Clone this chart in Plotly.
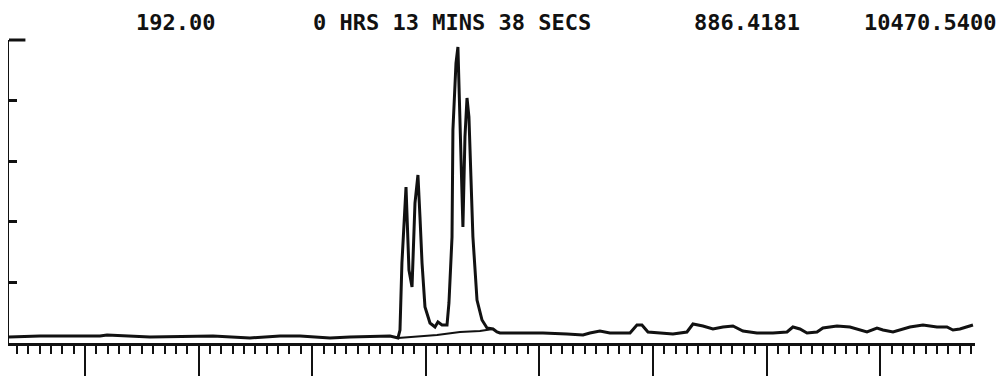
import plotly.graph_objects as go

# Chromatogram trace (x in scan units, y in % of full scale)
scan = [3.31, 6.04, 11.32, 11.94, 15.72, 20.12, 21.27, 24.52, 27.17, 28.93, 31.57, 33.33, 36.85,
        37.55, 37.73, 37.90, 38.17, 38.26, 38.52, 38.79, 39.05, 39.31, 39.49, 39.67, 39.93,
        40.37, 40.81, 41.07, 41.43, 41.87, 42.04, 42.31, 42.39, 42.66, 42.83, 43.01, 43.19,
        43.27, 43.45, 43.63, 43.80, 43.98, 44.15, 44.51, 44.95, 45.39, 45.92, 46.27, 46.53,
        48.29, 50.32, 52.43, 53.84, 54.45, 55.33, 56.21, 57.98, 58.59, 59.03, 59.56, 60.62,
        61.76, 62.99, 63.52, 64.40, 65.28, 66.16, 67.04, 67.92, 69.15, 70.56, 71.80, 72.32,
        72.94, 73.56, 74.44, 74.96, 76.20, 77.34, 78.22, 78.84, 79.72, 80.25, 81.13, 82.01,
        82.62, 83.77, 85.00, 85.88, 86.41, 87.02, 87.64, 88.17]
intensity = [1.98, 2.31, 2.31, 2.64, 1.98, 2.31, 2.31, 1.65, 2.31, 2.31, 1.65, 1.98, 2.31,
             1.65, 4.29, 26.40, 43.89, 51.49, 24.09, 18.48, 46.20, 55.45, 41.58, 26.40, 11.88,
             6.60, 5.28, 6.93, 5.94, 5.94, 13.20, 34.98, 70.30, 92.41, 97.69, 72.61, 56.11,
             38.28, 67.99, 80.86, 74.59, 57.10, 34.98, 14.19, 7.59, 4.95, 4.62, 3.63, 3.30,
             3.30, 3.30, 2.97, 2.64, 3.30, 3.96, 3.30, 3.30, 5.94, 5.94, 3.63, 3.30,
             2.97, 3.63, 6.27, 5.61, 4.62, 5.28, 5.61, 3.96, 3.30, 3.30, 3.63, 5.28,
             4.62, 3.30, 3.63, 4.95, 5.61, 5.28, 4.29, 3.63, 4.95, 4.29, 3.63, 4.62,
             5.28, 5.94, 5.28, 5.28, 4.29, 4.62, 5.28, 5.94]

# Baseline drawn under the peak cluster
base_scan = [37.55, 40.99, 43.01, 44.77, 45.92]
base_int = [1.65, 2.64, 3.63, 3.96, 4.62]

header = ["192.00", "0 HRS 13 MINS 38 SECS", "886.4181", "10470.5400"]
header_x = [0.1724, 0.4591, 0.7635, 0.9539]

major_ticks = [10, 20, 30, 40, 50, 60, 70, 80]
y_ticks = [20, 40, 60, 80]

fig = go.Figure()
fig.add_trace(go.Scatter(x=scan, y=intensity, mode="lines",
                         line=dict(color="#111111", width=3), hoverinfo="skip"))
fig.add_trace(go.Scatter(x=base_scan, y=base_int, mode="lines",
                         line=dict(color="#111111", width=2.2), hoverinfo="skip"))

for txt, xp in zip(header, header_x):
    fig.add_annotation(text=txt, x=xp, y=1.0594, xref="paper", yref="paper",
                       xanchor="center", yanchor="middle", showarrow=False, borderpad=0,
                       font=dict(family="DejaVu Sans Mono", size=22, color="#111111",
                                 weight="bold"))

# top hook of the y axis
fig.add_shape(type="line", xref="paper", yref="paper", x0=0, x1=0.017, y0=1, y1=1,
              line=dict(color="#111111", width=3))

fig.update_layout(
    width=1006, height=376,
    margin=dict(l=1, r=39, t=32, b=41),
    paper_bgcolor="white", plot_bgcolor="white",
    showlegend=False,
    xaxis=dict(range=[3.31, 88.35], showgrid=False, zeroline=False,
               showline=True, linecolor="#111111", linewidth=3,
               tickvals=major_ticks, ticks="outside", ticklen=36, tickwidth=2,
               tickcolor="#111111", showticklabels=False,
               minor=dict(ticks="outside", ticklen=8, tickwidth=2, dtick=1, tick0=0,
                          tickcolor="#111111")),
    yaxis=dict(range=[0, 100], showgrid=False, zeroline=False,
               showline=True, linecolor="#111111", linewidth=2.5,
               tickvals=y_ticks, ticks="inside", ticklen=8, tickwidth=2.5,
               tickcolor="#111111", showticklabels=False),
)

fig.write_html("out.html")
